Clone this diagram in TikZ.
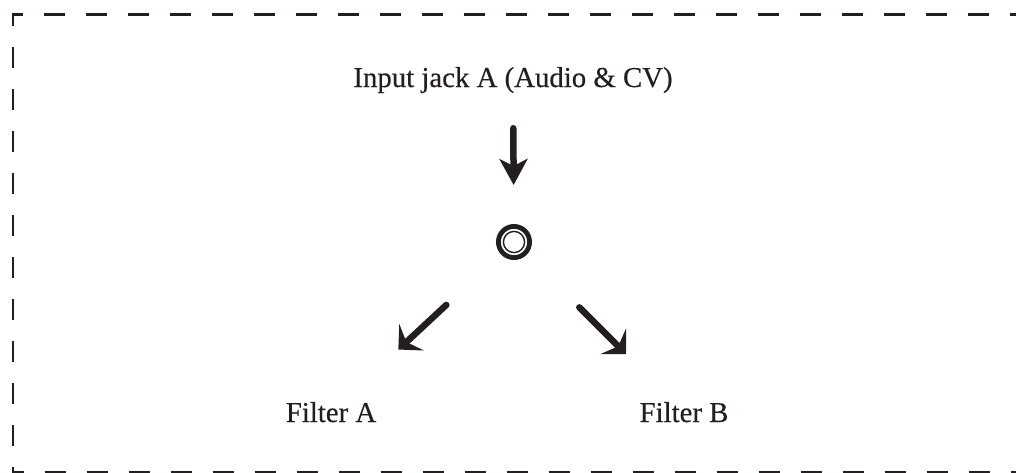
\documentclass[tikz,border=0pt]{standalone}
\usepackage{fontspec}
\setmainfont{Liberation Serif}
\usepackage{xcolor}
\usetikzlibrary{arrows.meta, positioning}
\definecolor{ink}{HTML}{231F20}

\begin{document}
\begin{tikzpicture}[x=0.5pt,y=-0.5pt,
		txt/.style={font=\fontsize{14.4}{17}\selectfont\addfontfeature{FakeBold=0.35}, text=ink, inner sep=0pt, anchor=base},
		jack/.style={circle, draw=ink, line width=2.4pt, minimum size=15.6pt, inner sep=0pt},
		flow/.style={ink, line width=3.25pt, line cap=round},
		border/.style={ink, line width=1.1pt, dash pattern=on 10.5pt off 10.5pt}]
			% Picture's frame (pixels of the reference)
			\def\picW{1016}
			\def\picH{472}
			\useasboundingbox (0,0) rectangle (\picW,\picH);
			\clip (0,0) rectangle (\picW,\picH);
			
			% DASHED FRAME
			\draw[border, dash phase=7.5pt] (13,472.5) -- (13,14.5) -- (1040,14.5);
			\draw[border, dash phase=5.25pt] (13,472.5) -- (1040,472.5);
			
			% INPUT LABEL AND JACK
			\node[txt] (input) at (513,87) {Input jack A (Audio \& CV)};
			\node[jack] (jack) at (514,242) {};
			\draw[ink, line width=0.7pt] (jack.center) circle[radius=5.3pt]; % inner ring
			
			% FILTER LABELS
			\node[txt] (filterA) at (331,422) {Filter A};
			\node[txt] (filterB) at (684,422) {Filter B};
			
			% ARROWS
			\draw[flow, -{Stealth[length=13pt,width=14pt,inset=3.5pt]}, shorten <=17.35pt, shorten >=19.5pt] (input) -- (jack);
			\draw[flow, -{Stealth[length=9pt,width=18pt,inset=3.5pt]}, shorten <=37.2pt, shorten >=38.25pt] (jack) -- (filterA);
			\draw[flow, -{Stealth[length=9pt,width=18pt,inset=3.5pt]}, shorten <=37.2pt, shorten >=33.6pt] (jack) -- (filterB);
		\end{tikzpicture}
\end{document}
